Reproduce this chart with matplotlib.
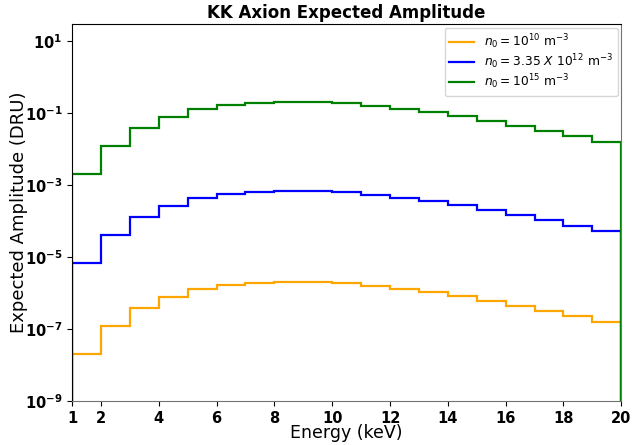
import numpy as np
import matplotlib
matplotlib.use('Agg')
import matplotlib.pyplot as plt

# energy bin edges (keV)
edges = [1, 2, 3, 4, 5, 6, 7, 8, 9, 10, 11, 12, 13, 14, 15, 16, 17, 18, 19, 20]

# expected amplitude (DRU) per bin
amp_1e10 = [1.98e-8, 1.21e-7, 3.83e-7, 7.94e-7, 1.27e-6, 1.67e-6, 1.95e-6, 2.02e-6, 2.00e-6, 1.86e-6,
            1.61e-6, 1.32e-6, 1.05e-6, 8.1e-7, 6.0e-7, 4.46e-7, 3.16e-7, 2.25e-7, 1.56e-7]
amp_335e12 = [6.63e-6, 4.05e-5, 1.28e-4, 2.66e-4, 4.25e-4, 5.59e-4, 6.53e-4, 6.77e-4, 6.70e-4, 6.23e-4,
              5.39e-4, 4.42e-4, 3.52e-4, 2.71e-4, 2.01e-4, 1.49e-4, 1.06e-4, 7.5e-5, 5.2e-5]
amp_1e15 = [1.98e-3, 1.21e-2, 3.83e-2, 7.94e-2, 0.127, 0.167, 0.195, 0.202, 0.200, 0.186,
            0.161, 0.132, 0.105, 0.081, 0.060, 0.0446, 0.0316, 0.0225, 0.0156]

labels = [r'$n_0 = 10^{10}$ m$^{-3}$',
          r'$n_0 = 3.35\ X\ 10^{12}$ m$^{-3}$',
          r'$n_0 = 10^{15}$ m$^{-3}$']
colors = ['orange', 'blue', 'green']

fig = plt.figure(figsize=(6.32, 4.45), dpi=100)
ax = fig.add_subplot(111)
fig.subplots_adjust(left=0.114, right=0.983, top=0.946, bottom=0.099)

for vals, lab, col in zip([amp_1e10, amp_335e12, amp_1e15], labels, colors):
    ax.stairs(vals, edges, baseline=1e-14, color=col, linewidth=1.6, label=lab)

ax.set_yscale('log')
ax.set_xlim(1, 20)
ax.set_ylim(1e-9, 30)
ax.set_xticks([1, 2, 4, 6, 8, 10, 12, 14, 16, 18, 20])
ax.minorticks_off()
ax.set_yticks([1e-9, 1e-7, 1e-5, 1e-3, 1e-1, 1e1])

for lbl in ax.get_xticklabels() + ax.get_yticklabels():
    lbl.set_fontweight('bold')
    lbl.set_fontsize(10.5)

ax.spines['bottom'].set_color('0.45')
ax.spines['right'].set_color('0.45')

ax.set_title('KK Axion Expected Amplitude', fontsize=12, fontweight='bold', pad=4)
ax.set_xlabel('Energy (keV)', fontsize=12.5, labelpad=-1)
ax.set_ylabel('Expected Amplitude (DRU)', fontsize=13, labelpad=-2)
ax.legend(loc='upper right', fontsize=8.8, labelspacing=0.1, borderaxespad=0.3)

fig.savefig('out.png', dpi=100)
